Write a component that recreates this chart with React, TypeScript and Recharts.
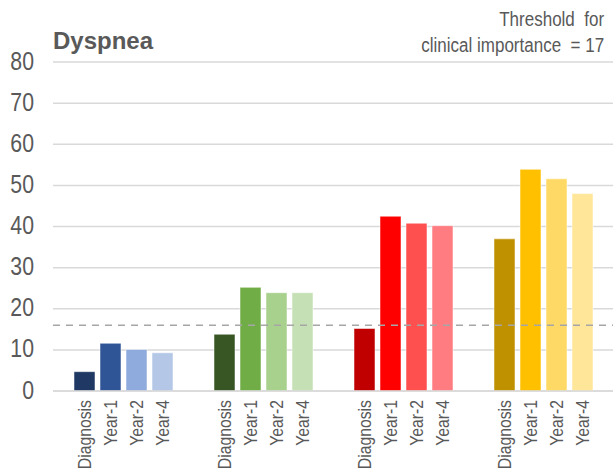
import { BarChart, Bar, XAxis, YAxis, CartesianGrid, ReferenceLine, Cell, LabelList } from "recharts";

const GROUPS = ["Group 1", "Group 2", "Group 3", "Group 4"];
const TIMEPOINTS = ["Diagnosis", "Year-1", "Year-2", "Year-4"];

const diagnosis = [4.7, 13.8, 15.2, 37.0];
const year1 = [11.6, 25.2, 42.5, 53.9];
const year2 = [10.1, 23.9, 40.8, 51.6];
const year4 = [9.3, 23.9, 40.2, 48.0];

const Y_TICKS = [0, 10, 20, 30, 40, 50, 60, 70, 80];
const THRESHOLD_LINE = 16;

// one row of shades per group, dark -> light across the timepoints
const COLORS = [
  ["#1f3864", "#2f5597", "#8faadc", "#b4c7e7"],
  ["#375623", "#70ad47", "#a9d18e", "#c5e0b4"],
  ["#c00000", "#ff0000", "#ff5050", "#ff7c80"],
  ["#bf9000", "#ffc000", "#ffd966", "#ffe699"],
];

const SERIES = [diagnosis, year1, year2, year4];
const KEYS = ["diagnosis", "year1", "year2", "year4"];

const data = GROUPS.map((g, i) => ({
  group: g,
  diagnosis: diagnosis[i],
  year1: year1[i],
  year2: year2[i],
  year4: year4[i],
}));

const FONT = '"Liberation Sans", Arial, sans-serif';
const TEXT = "#595959";
// the original uses a narrow face; squeeze the regular one to match
const NARROW = 0.83;

function timepointLabel(name: string) {
  return (props: any) => {
    const { x, y, width, height } = props;
    const cx = Number(x) + Number(width) / 2;
    const top = Number(y) + Number(height) + 9;
    return (
      <text
        transform={`translate(${cx}, ${top}) rotate(-90) scale(${NARROW}, 1)`}
        textAnchor="end"
        dominantBaseline="central"
        fontSize={19}
        fontFamily={FONT}
        fill={TEXT}
      >
        {name}
      </text>
    );
  };
}

function YTick({ x, y, payload }: any) {
  return (
    <text
      transform={`translate(${x}, ${y - 1}) scale(0.85, 1)`}
      textAnchor="end"
      dominantBaseline="central"
      fontSize={25}
      fontFamily={FONT}
      fill={TEXT}
    >
      {payload.value}
    </text>
  );
}

export default function App() {
  return (
    <div style={{ position: "relative", width: 613, height: 473, background: "#fff", fontFamily: FONT }}>
      <style>{`body { margin: 0; }`}</style>
      <div style={{ position: "absolute", left: 53, top: 27, fontSize: 24, lineHeight: "28px", fontWeight: "bold", color: TEXT }}>
        Dyspnea
      </div>
      <div
        style={{
          position: "absolute", right: 9, top: 6, fontSize: 20, lineHeight: "26px",
          color: TEXT, textAlign: "right", whiteSpace: "pre",
          transform: `scaleX(${NARROW + 0.02})`, transformOrigin: "right top",
        }}
      >
        {"Threshold  for\nclinical importance  = 17"}
      </div>
      <BarChart
        width={613}
        height={473}
        data={data}
        margin={{ top: 62, right: 0, bottom: 0, left: 0 }}
        barSize={21}
        barGap={5}
      >
        <CartesianGrid vertical={false} stroke="#d9d9d9" strokeWidth={1.5} />
        <XAxis dataKey="group" tick={false} height={82} axisLine={{ stroke: "#d9d9d9", strokeWidth: 1.5 }} tickLine={false} />
        <YAxis
          width={53}
          domain={[0, 80]}
          ticks={Y_TICKS}
          axisLine={false}
          tickLine={false}
          tickMargin={13}
          tick={<YTick />}
        />
        {KEYS.map((key, s) => (
          <Bar key={key} dataKey={key} name={TIMEPOINTS[s]} isAnimationActive={false} stroke="#ffffff" strokeOpacity={0.5}>
            {SERIES[s].map((_, g) => (
              <Cell key={g} fill={COLORS[g][s]} />
            ))}
            <LabelList dataKey={key} content={timepointLabel(TIMEPOINTS[s])} />
          </Bar>
        ))}
        <ReferenceLine y={THRESHOLD_LINE} stroke="#a6a6a6" strokeWidth={1.5} strokeDasharray="7 6" ifOverflow="extendDomain" />
      </BarChart>
    </div>
  );
}
